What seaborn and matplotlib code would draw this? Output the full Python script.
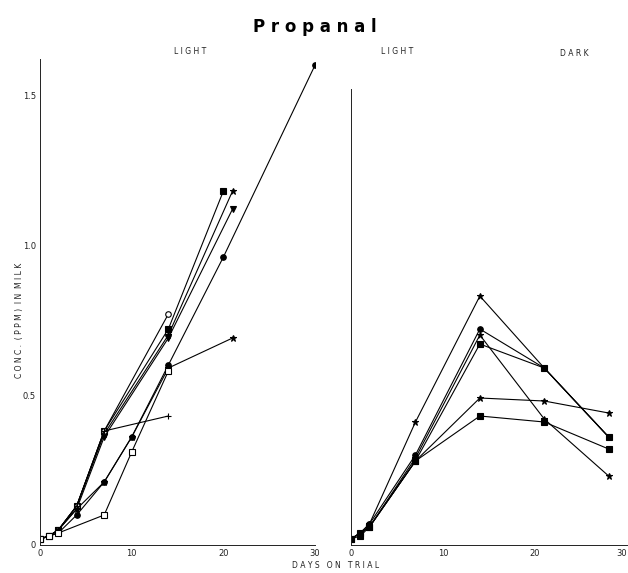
import matplotlib
matplotlib.use("Agg")
import matplotlib.pyplot as plt
import pandas as pd
import seaborn as sns

# left panel (light) - days on trial and concentration (ppm) per trial
LEFT_SERIES = {
    "A": ([0, 1, 2, 4, 7, 14, 20], [0.02, 0.03, 0.05, 0.13, 0.38, 0.72, 1.18]),
    "B": ([0, 1, 2, 4, 7, 14, 21], [0.02, 0.03, 0.05, 0.13, 0.37, 0.70, 1.18]),
    "C": ([0, 1, 2, 4, 7, 14, 21], [0.02, 0.03, 0.05, 0.12, 0.36, 0.69, 1.12]),
    "D": ([0, 1, 2, 4, 7, 10, 14, 20, 30], [0.02, 0.03, 0.04, 0.10, 0.21, 0.36, 0.60, 0.96, 1.60]),
    "E": ([0, 1, 2, 4, 7, 14], [0.02, 0.03, 0.05, 0.13, 0.38, 0.77]),
    "F": ([0, 1, 2, 4, 7, 10, 14, 21], [0.02, 0.03, 0.05, 0.12, 0.21, 0.36, 0.59, 0.69]),
    "G": ([0, 1, 2, 4, 7, 14], [0.02, 0.03, 0.05, 0.13, 0.38, 0.43]),
    "H": ([0, 1, 2, 7, 10, 14], [0.02, 0.03, 0.04, 0.10, 0.31, 0.58]),
}
LEFT_MARKERS = {"A": "s", "B": "*", "C": "v", "D": "o", "E": "o",
                "F": "*", "G": "+", "H": "s"}
LEFT_OPEN = ["E", "H"]

# right panel (light then dark)
RIGHT_DAYS = [0, 1, 2, 7, 14, 21, 28]
RIGHT_SERIES = {
    "R1": [0.02, 0.04, 0.07, 0.41, 0.83, 0.59, 0.36],
    "R2": [0.02, 0.04, 0.07, 0.30, 0.72, 0.59, 0.36],
    "R3": [0.02, 0.04, 0.06, 0.29, 0.70, 0.42, 0.23],
    "R4": [0.02, 0.04, 0.06, 0.28, 0.67, 0.59, 0.36],
    "R5": [0.02, 0.04, 0.06, 0.28, 0.49, 0.48, 0.44],
    "R6": [0.02, 0.03, 0.06, 0.28, 0.43, 0.41, 0.32],
}
RIGHT_MARKERS = {"R1": "*", "R2": "o", "R3": "*", "R4": "s", "R5": "*", "R6": "s"}

X_TICKS = [0, 10, 20, 30]
Y_TICKS = [0, 0.5, 1.0, 1.5]
Y_TICK_LABELS = ["0", "0.5", "1.0", "1.5"]

sns.set_style("white")
plt.rcParams["font.family"] = ["DejaVu Sans"]

fig = plt.figure(figsize=(6.28, 5.73), dpi=100)
ax1 = fig.add_axes([0.0637, 0.0489, 0.438, 0.848])
ax2 = fig.add_axes([0.559, 0.0489, 0.4395, 0.848])


def draw(ax, days, vals, marker, open_marker=False):
    df = pd.DataFrame({"day": days, "conc": vals})
    sns.lineplot(data=df, x="day", y="conc", ax=ax, color="black",
                 linewidth=0.8, marker=marker, markersize=4 if marker != "*" else 5,
                 markerfacecolor="white" if open_marker else "black",
                 markeredgecolor="black", markeredgewidth=0.8,
                 estimator=None, sort=False, legend=False)


for name, (d, v) in LEFT_SERIES.items():
    draw(ax1, d, v, LEFT_MARKERS[name], name in LEFT_OPEN)
for name, v in RIGHT_SERIES.items():
    draw(ax2, RIGHT_DAYS, v, RIGHT_MARKERS[name])

for ax in (ax1, ax2):
    ax.set_xlim(0, 30)
    ax.set_ylim(0, 1.62)
    ax.set_xlabel("")
    ax.set_ylabel("")
    ax.spines["top"].set_visible(False)
    ax.spines["right"].set_visible(False)
    for s in ("left", "bottom"):
        ax.spines[s].set_linewidth(0.7)
        ax.spines[s].set_color("#222222")
    ax.set_xticks(X_TICKS)
    ax.set_xticklabels([str(t) for t in X_TICKS])
    ax.set_yticks(Y_TICKS)
    ax.tick_params(direction="in", length=4, width=0.6, labelsize=6, pad=3,
                   colors="#222222")

ax1.set_yticklabels(Y_TICK_LABELS)
ax2.set_yticklabels([])
ax2.spines["left"].set_bounds(0, 1.52)
ax2.xaxis.get_ticklabels()[-1].set_horizontalalignment("right")

label_kw = dict(fontsize=5.5, color="#222222", ha="center", va="center")
fig.text(190 / 628, 1 - 52 / 573, "L I G H T", **label_kw)
fig.text(397 / 628, 1 - 52 / 573, "L I G H T", **label_kw)
fig.text(574 / 628, 1 - 54 / 573, "D A R K", **label_kw)
fig.text(20 / 628, 1 - 320 / 573, "C O N C .  ( P P M )  I N  M I L K",
         rotation=90, **label_kw)
fig.text(336 / 628, 1 - 566 / 573, "D A Y S   O N   T R I A L", **label_kw)
fig.text(315 / 628, 1 - 27 / 573, "P r o p a n a l", fontsize=12,
         fontweight="heavy", color="black", ha="center", va="center")

fig.savefig("out.png", dpi=100)
